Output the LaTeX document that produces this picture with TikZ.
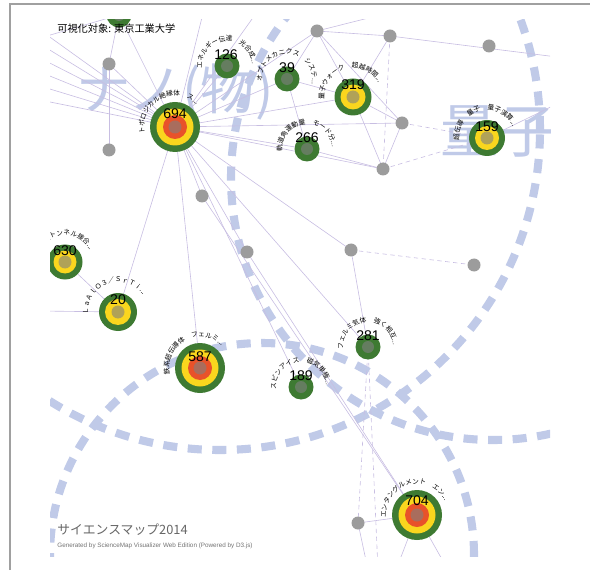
\documentclass[tikz,border=0pt]{standalone}
\usepackage{fontspec}
\setmainfont{Liberation Sans}
\newfontfamily\jpfont{Noto Sans CJK JP}
\usetikzlibrary{decorations.text}

\definecolor{hitgreen}{RGB}{62,122,50}
\definecolor{hityellow}{RGB}{250,214,30}
\definecolor{hitorange}{RGB}{232,82,42}
\definecolor{linkline}{RGB}{200,190,226}
\definecolor{areablue}{RGB}{192,202,232}
\definecolor{dotgray}{RGB}{156,156,156}
\definecolor{framegray}{RGB}{160,160,160}

\newcommand\lblfont{\jpfont\fontsize{3.8}{4}\selectfont}
% rings of a hit node: 1 = green, 2 = green+yellow, 3 = green+yellow+orange
\newcommand\ringone[1]{\fill[hitgreen] (#1) circle[radius=12.5*0.02cm];
  \fill[core] (#1) circle[radius=6*0.02cm];}
\newcommand\ringtwo[2]{\fill[hitgreen] (#1) circle[radius=#2*0.02cm];
  \fill[hityellow] (#1) circle[radius=#2*0.02cm-6*0.02cm];
  \fill[core] (#1) circle[radius=6.5*0.02cm];}
\newcommand\ringthree[1]{\fill[hitgreen] (#1) circle[radius=25*0.02cm];
  \fill[hityellow] (#1) circle[radius=18.5*0.02cm];
  \fill[hitorange] (#1) circle[radius=12*0.02cm];
  \fill[core] (#1) circle[radius=6.5*0.02cm];}
% label bent round a node
\newcommand\arclabel[5]{\path[decorate, shift={(#1)},
  decoration={text along path, text format delimiters={|}{|},
    text={|\lblfont|#5}}]
  (#3:#2*0.02cm) arc[start angle=#3, end angle=#4, radius=#2*0.02cm];}

\begin{document}
\begin{tikzpicture}[x=0.02cm, y=-0.02cm,
    link/.style={draw=linkline, line width=0.35pt},
    weak/.style={link, dash pattern=on 2.5pt off 2pt},
    area/.style={draw=areablue, line width=4.6pt, dash pattern=on 8pt off 6pt},
    core/.style={fill=black!50, fill opacity=0.6},
    dot/.style={fill=dotgray},
    num/.style={font=\fontsize{8}{8}\selectfont, inner sep=0pt},
    bigword/.style={text=areablue, inner sep=0pt, anchor=west}]
  \useasboundingbox (0,0) rectangle (590,570);
  \draw[framegray, line width=1.1pt] (10,570) -- (10,4) -- (590,4);

  % hit nodes
  \coordinate (ntop) at (119,15);
  \coordinate (n694) at (175,127);
  \coordinate (n126) at (227,66);
  \coordinate (n39) at (287,79);
  \coordinate (n319) at (353,97);
  \coordinate (n266) at (307,149);
  \coordinate (n159) at (487,138);
  \coordinate (n630) at (65,262);
  \coordinate (n20) at (118,312);
  \coordinate (n587) at (200,368);
  \coordinate (n281) at (368,347);
  \coordinate (n189) at (301,387);
  \coordinate (n704) at (417,515);
  % empty nodes
  \coordinate (g1) at (109,64);
  \coordinate (g2) at (109,150);
  \coordinate (g3) at (317,31);
  \coordinate (g4) at (390,36);
  \coordinate (g5) at (489,46);
  \coordinate (g6) at (402,123);
  \coordinate (g7) at (383,169);
  \coordinate (g8) at (202,196);
  \coordinate (g9) at (247,252);
  \coordinate (g10) at (351,250);
  \coordinate (g11) at (474,265);
  \coordinate (g12) at (358,523);
  % ends of links that leave the map
  \coordinate (l1) at (40,30);
  \coordinate (l2) at (40,44);
  \coordinate (l3) at (40,58);
  \coordinate (l4) at (40,72);
  \coordinate (l5) at (40,86);
  \coordinate (l6) at (40,100);
  \coordinate (l7) at (40,38);
  \coordinate (l8) at (40,311);
  \coordinate (t1) at (205,5);
  \coordinate (t2) at (262,5);
  \coordinate (t3) at (420,5);
  \coordinate (r1) at (565,100);
  \coordinate (r2) at (565,58);
  \coordinate (b1) at (378,570);
  \coordinate (b2) at (396,570);
  \coordinate (b3) at (448,570);
  \coordinate (b4) at (368,570);

  \begin{scope}
    \clip (50,20) rectangle (550,556);
    % research areas
    \node[bigword, font=\jpfont\fontsize{31}{31}\selectfont] (nano) at (76,92) {ナノ(物)};
    \node[bigword, font=\jpfont\fontsize{33}{33}\selectfont] (ryoshi) at (440,131) {量子};
    \draw[area] (220,130) circle[radius=320*0.02cm];
    \draw[area] (493,178) circle[radius=262*0.02cm];
    \draw[area] (262,555) circle[radius=212*0.02cm];

    \begin{scope}[link]
      \draw (n694) to (l1);
      \draw (n694) to (l2);
      \draw (n694) to (l3);
      \draw (n694) to (l4);
      \draw (n694) to (l5);
      \draw (n694) to (l6);
      \draw (ntop) to (l7);
      \draw (ntop) to (g1);
      \draw (g1) to (g2);
      \draw (g1) to (n694);
      \draw (ntop) to (n694);
      \draw (n694) to (n126);
      \draw (n694) to (n39);
      \draw (n694) to (g3);
      \draw (n694) to (n319);
      \draw (n694) to (g6);
      \draw (n694) to (g7);
      \draw (n694) to (n266);
      \draw (n694) to (t1);
      \draw (n694) to (t2);
      \draw (g3) to (g4);
      \draw (g3) to (n39);
      \draw (g3) to (n319);
      \draw (g3) to (t3);
      \draw (g3) to (g6);
      \draw (g4) to (n319);
      \draw (g4) to (r2);
      \draw (n39) to (n319);
      \draw (n39) to (n266);
      \draw (n319) to (g6);
      \draw (n319) to (g7);
      \draw (n266) to (g7);
      \draw (g6) to (g7);
      \draw (n159) to (r1);
      \draw (n694) to (g8);
      \draw (n694) to (g9);
      \draw (n694) to (g10);
      \draw (n694) to (n587);
      \draw (n694) to (n281);
      \draw (n694) to (n20);
      \draw (n694) to (n189);
      \draw (g8) to (n704);
      \draw (g9) to (n704);
      \draw (g10) to (n281);
      \draw (n630) to (n20);
      \draw (n20) to (l8);
      \draw (n704) to (g12);
      \draw (n704) to (b2);
      \draw (n704) to (b3);
      \draw (g12) to (b4);
    \end{scope}
    \begin{scope}[weak]
      \draw (g4) to (g7);
      \draw (g6) to (n159);
      \draw (g7) to (n159);
      \draw (g10) to (g11);
      \draw (n281) to (g12);
      \draw (n281) to (b1);
    \end{scope}

    % empty nodes
    \foreach \g in {g1,g2,g3,g4,g5,g6,g7,g8,g9,g10,g11,g12}
      \fill[dot] (\g) circle[radius=6.5*0.02cm];
    % hit nodes
    \ringone{ntop}
    \ringthree{n694}
    \ringone{n126}
    \ringone{n39}
    \ringtwo{n319}{18.5}
    \ringone{n266}
    \ringtwo{n159}{18}
    \ringtwo{n630}{17.5}
    \ringtwo{n20}{19}
    \ringthree{n587}
    \ringone{n281}
    \ringone{n189}
    \ringthree{n704}

    \node[num] (c694) at (175,114) {694};
    \node[num] (c126) at (226,55) {126};
    \node[num] (c39) at (287,68) {39};
    \node[num] (c319) at (353,85) {319};
    \node[num] (c266) at (307,138) {266};
    \node[num] (c159) at (487,127) {159};
    \node[num] (c630) at (65,251) {630};
    \node[num] (c20) at (118,300) {20};
    \node[num] (c587) at (200,357) {587};
    \node[num] (c281) at (368,336) {281};
    \node[num] (c189) at (301,376) {189};
    \node[num] (c704) at (417,501) {704};

    \arclabel{n694}{31}{192}{-40}{トポロジカル絶縁体　ス...}
    \arclabel{n126}{25}{185}{-40}{エネルギー伝達　光合成...}
    \arclabel{n39}{25}{185}{-40}{オプトメカニクス　システ...}
    \arclabel{n319}{29}{185}{-40}{量子ウォーク　超越時間...}
    \arclabel{n266}{25}{185}{-40}{軌道角運動量　モード分...}
    \arclabel{n159}{28}{185}{-40}{超伝導　量子　量子演算...}
    \arclabel{n630}{27}{150}{-40}{磁気トンネル接合...}
    \arclabel{n20}{30}{185}{-40}{ＬａＡｌＯ３／ＳｒＴｉ...}
    \arclabel{n587}{31}{192}{-40}{鉄系超伝導体　フェルミ...}
    \arclabel{n281}{25}{185}{-40}{フェルミ気体　強く相互...}
    \arclabel{n189}{25}{185}{-40}{スピンアイス　磁気単極...}
    \arclabel{n704}{31}{185}{-40}{エンタングルメント　エン...}
  \end{scope}

  \node[anchor=west, inner sep=0pt, font=\jpfont\fontsize{5.8}{6}\selectfont] (title) at (57,29) {可視化対象: 東京工業大学};
  \node[anchor=west, inner sep=0pt, text=black!60, font=\jpfont\fontsize{7.3}{8}\selectfont] (brand) at (57,530) {サイエンスマップ2014};
  \node[anchor=west, inner sep=0pt, text=black!55, font=\fontsize{3.6}{4}\selectfont] (credit) at (57,546) {Generated by ScienceMap Visualizer Web Edition (Powered by D3.js)};
\end{tikzpicture}
\end{document}
